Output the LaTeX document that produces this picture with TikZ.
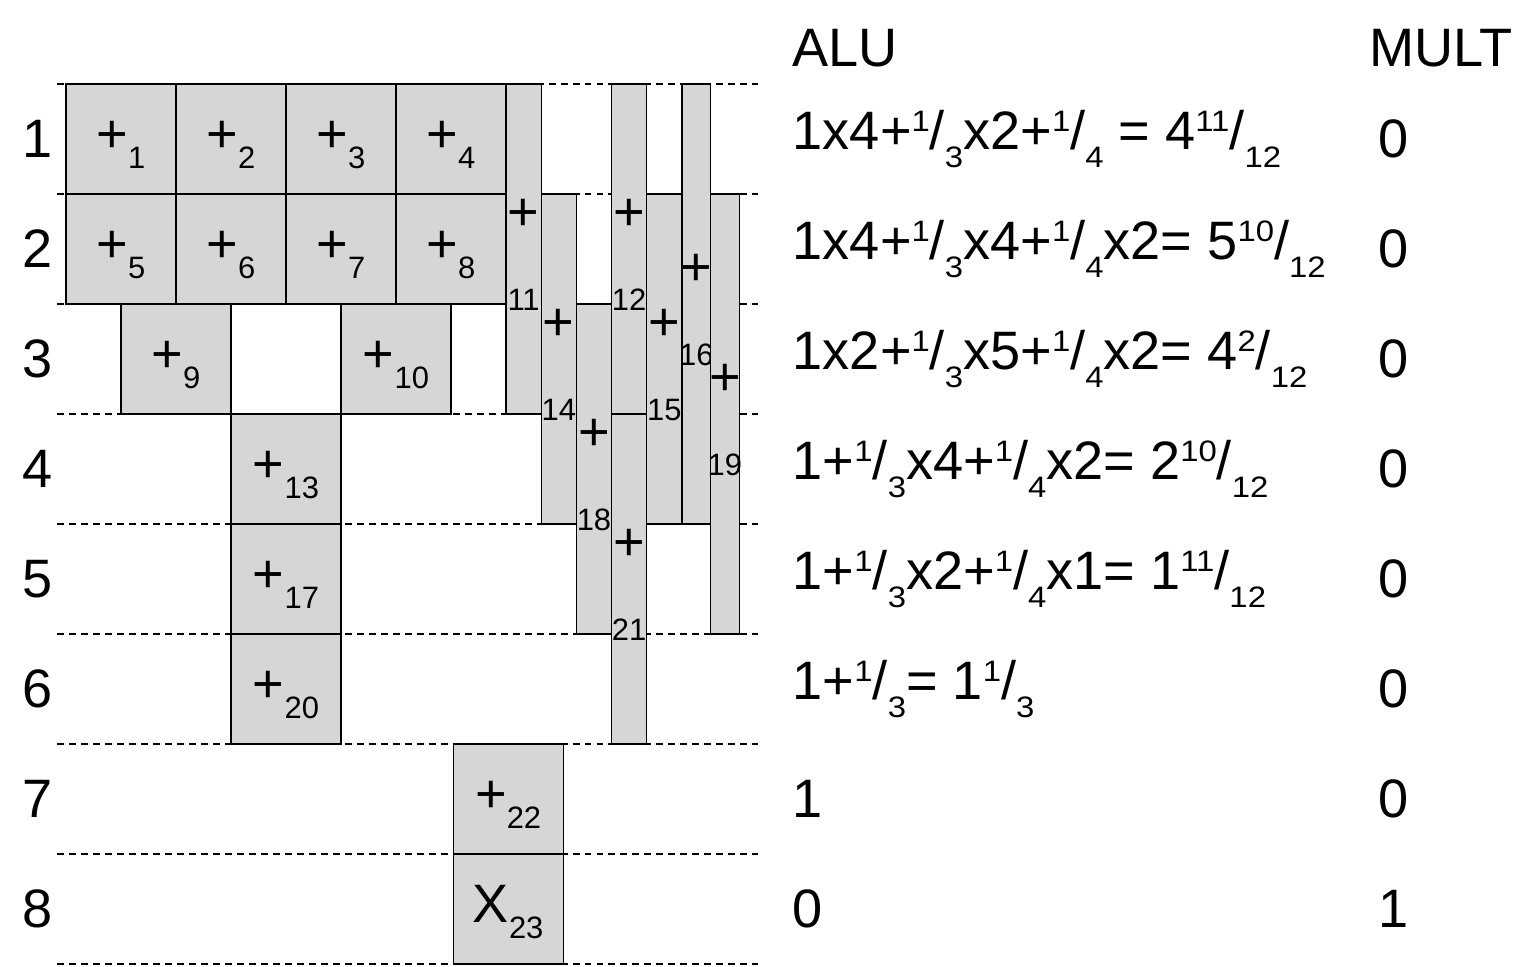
\documentclass[tikz,border=0pt]{standalone}
\usepackage{graphicx}
\usepackage{fontspec}
\setmainfont{Liberation Sans}
\definecolor{opGray}{RGB}{214,214,214}
% small indices and split fractions
\newcommand\opidx[1]{\raisebox{-4.1pt}{\fontsize{8}{9}\selectfont #1}}
\newcommand\fracup[1]{\raisebox{4.5pt}{\scalebox{1}[0.9]{\fontsize{8.5}{9}\selectfont #1}}}
\newcommand\fracdn[1]{\raisebox{-4.8pt}{\scalebox{1}[0.9]{\fontsize{8.5}{9}\selectfont #1}}}
\newcommand\frc[2]{\fracup{#1}/\fracdn{#2}}

\begin{document}
\begin{tikzpicture}[
  op/.style={draw=black, line width=0.3pt, fill=opGray, inner sep=0pt,
             minimum width=1cm, minimum height=1cm,
             font=\fontsize{14}{16}\selectfont, text height=10.8pt, text depth=4pt},
  slim/.style={draw=black, line width=0.3pt, fill=opGray, inner sep=0pt},
  plus/.style={inner sep=0pt, anchor=base, font=\fontsize{14}{16}\selectfont},
  num/.style={inner sep=0pt, anchor=base, font=\fontsize{8}{9}\selectfont},
  lbl/.style={inner sep=0pt, font=\fontsize{14}{16}\selectfont},
  alu/.style={inner sep=0pt, anchor=west, font=\fontsize{14}{16}\selectfont},
  grid/.style={line width=0.3pt, dash pattern=on 1.8pt off 1.3pt}
]
\useasboundingbox (-0.6,-0.018) rectangle (13.382,8.764);

% cycle lines and numbers
\foreach \y in {0,...,8}
  \draw[grid] (-0.08,\y) -- (6.29,\y);
\foreach \r in {1,...,8}
  \node[lbl] (r\r) at (-0.26,8.5-\r) {\r};

% one-cycle operations
\node[op] (o1)  at (0.5,7.5) {+\opidx{1}};
\node[op] (o2)  at (1.5,7.5) {+\opidx{2}};
\node[op] (o3)  at (2.5,7.5) {+\opidx{3}};
\node[op] (o4)  at (3.5,7.5) {+\opidx{4}};
\node[op] (o5)  at (0.5,6.5) {+\opidx{5}};
\node[op] (o6)  at (1.5,6.5) {+\opidx{6}};
\node[op] (o7)  at (2.5,6.5) {+\opidx{7}};
\node[op] (o8)  at (3.5,6.5) {+\opidx{8}};
\node[op] (o9)  at (1.0,5.5) {+\opidx{9}};
\node[op] (o10) at (3.0,5.5) {+\opidx{10}};
\node[op] (o13) at (2.0,4.5) {+\opidx{13}};
\node[op] (o17) at (2.0,3.5) {+\opidx{17}};
\node[op] (o20) at (2.0,2.5) {+\opidx{20}};
\node[op] (o22) at (4.02,1.5) {+\opidx{22}};
\node[op] (o23) at (4.02,0.5) {X\opidx{23}};

% multi-cycle operations
\foreach \n/\x/\y/\w/\h in {11/4.16/6.5/0.32/3, 14/4.48/5.5/0.32/3,
    18/4.80/4.5/0.32/3, 12/5.12/6.5/0.32/3, 21/5.12/3.5/0.32/3,
    15/5.44/5.5/0.32/3, 16/5.73/6/0.26/4, 19/5.99/5/0.26/4} {
  \node[slim, minimum width=\w cm, minimum height=\h cm] (s\n) at (\x,\y) {};
  \node[plus] (p\n) at ([yshift=0.17cm]s\n.center) {+};
  \node[num] (n\n) at ([yshift=-0.555cm]s\n.center) {\n};
}

% units
\node[alu] (alu)  at (6.6,8.33)  {ALU};
\node[alu] (mult) at (11.84,8.33) {MULT};
\node[alu] (a1) at (6.6,7.5) {1x4+\frc{1}{3}x2+\frc{1}{4} = 4\frc{11}{12}};
\node[alu] (a2) at (6.6,6.5) {1x4+\frc{1}{3}x4+\frc{1}{4}x2= 5\frc{10}{12}};
\node[alu] (a3) at (6.6,5.5) {1x2+\frc{1}{3}x5+\frc{1}{4}x2= 4\frc{2}{12}};
\node[alu] (a4) at (6.6,4.5) {1+\frc{1}{3}x4+\frc{1}{4}x2= 2\frc{10}{12}};
\node[alu] (a5) at (6.6,3.5) {1+\frc{1}{3}x2+\frc{1}{4}x1= 1\frc{11}{12}};
\node[alu] (a6) at (6.6,2.5) {1+\frc{1}{3}= 1\frc{1}{3}};
\node[alu] (a7) at (6.6,1.5) {1};
\node[alu] (a8) at (6.6,0.5) {0};
\foreach \r/\v in {1/0,2/0,3/0,4/0,5/0,6/0,7/0,8/1}
  \node[lbl] (m\r) at (12.07,8.5-\r) {\v};
\end{tikzpicture}
\end{document}
